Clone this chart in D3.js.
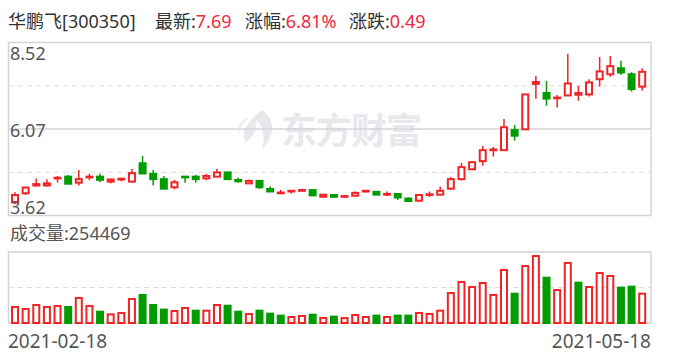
<html>
<head>
<meta charset="utf-8">
<script src='https://d3js.org/d3.v7.min.js'></script>
<style>
  body { margin: 0; background: #fff; }
  text { font-family: "Noto Sans", "Noto Sans CJK SC", sans-serif; }
</style>
</head>
<body>
<svg width=688 height=360></svg>
<script>

// daily prices, 2021-02-18 .. 2021-05-18
var open  = [3.99,4.25,4.47,4.47,4.67,4.72,4.55,4.70,4.72,4.58,4.64,4.58,5.10,4.80,4.65,4.42,4.72,4.72,4.67,4.72,
             4.84,4.63,4.53,4.60,4.37,4.25,4.30,4.32,4.34,4.15,4.20,4.15,4.18,4.30,4.29,4.21,4.23,4.10,4.04,4.20,
             4.21,4.38,4.65,4.93,5.16,5.47,5.47,6.04,6.06,7.35,7.09,6.94,7.02,7.04,7.05,7.48,7.62,7.79,7.62,7.27];
var high  = [4.28,4.44,4.67,4.65,4.74,4.77,4.91,4.80,4.80,4.66,4.69,4.94,5.31,4.91,4.74,4.63,4.74,4.77,4.80,4.94,
             4.85,4.69,4.63,4.60,4.44,4.34,4.32,4.38,4.34,4.23,4.20,4.17,4.30,4.34,4.29,4.30,4.23,4.13,4.20,4.30,
             4.44,4.71,5.11,5.16,5.59,5.56,6.35,6.18,7.05,7.57,7.43,7.03,8.20,7.29,7.48,8.11,8.14,8.00,7.68,7.79];
var low   = [3.94,4.20,4.44,4.44,4.55,4.52,4.47,4.62,4.57,4.53,4.59,4.55,4.82,4.47,4.38,4.36,4.55,4.55,4.62,4.70,
             4.64,4.55,4.51,4.38,4.30,4.23,4.24,4.30,4.19,4.15,4.13,4.13,4.15,4.27,4.21,4.17,4.06,4.01,4.01,4.15,
             4.19,4.34,4.61,4.93,5.03,5.29,5.47,5.74,6.06,6.93,6.73,6.68,7.02,6.87,6.99,7.27,7.55,7.61,7.13,7.16];
var close = [4.20,4.41,4.51,4.53,4.69,4.52,4.65,4.72,4.63,4.64,4.66,4.82,4.81,4.65,4.38,4.56,4.70,4.65,4.74,4.84,
             4.65,4.59,4.60,4.42,4.30,4.27,4.32,4.34,4.19,4.21,4.15,4.17,4.26,4.32,4.21,4.23,4.13,4.03,4.20,4.22,
             4.32,4.65,4.99,5.13,5.47,5.49,6.12,5.88,7.05,7.40,6.93,6.96,7.36,7.09,7.39,7.70,7.85,7.67,7.20,7.69];
// volume, lots
var volume = [139000,122000,156000,139000,148000,139000,217000,148000,98000,75000,87000,208000,243000,156000,116000,104000,130000,107000,107000,156000,
              150000,98000,78000,107000,81000,64000,52000,61000,72000,43000,55000,43000,69000,52000,64000,52000,64000,64000,87000,78000,
              107000,260000,356000,312000,347000,243000,460000,254000,494000,581000,393000,286000,521000,350000,312000,434000,408000,307000,315000,254469];

var priceTicks = [3.62, 6.07, 8.52];
var dateLabels = ["2021-02-18", "2021-05-18"];
var stockName = "华鹏飞[300350]";
var lastPrice = "7.69", changePct = "6.81%", changeAmt = "0.49";

var red = "#f02424", green = "#009c00";
var svg = d3.select('svg');

var x = d3.scaleBand().domain(d3.range(close.length)).range([9.7, 647.5]);
var y = d3.scaleLinear().domain([priceTicks[0], priceTicks[2]]).range([215.5, 42.5]);
var yv = d3.scaleLinear().domain([0, d3.max(volume) * 1.06]).range([323, 252]);
var bw = 6;

// header
var head = svg.append("text").attr("y", 28).attr("font-size", "18px").attr("fill", "#333");
head.append("tspan").attr("x", 8).text(stockName);
head.append("tspan").attr("x", 155).text("最新:");
head.append("tspan").attr("fill", "#f0283c").text(lastPrice);
head.append("tspan").attr("x", 245).text("涨幅:");
head.append("tspan").attr("fill", "#f0283c").text(changePct);
head.append("tspan").attr("x", 349).text("涨跌:");
head.append("tspan").attr("fill", "#f0283c").text(changeAmt);

// watermark
var wm = svg.append("g").attr("fill", "#e8e8ec");
wm.append("path").attr("d", "M262,110 C275,118 276,134 262,150 C266,136 262,124 256,120 C258,128 254,136 246,142 C240,134 246,122 262,110 Z");
wm.append("path").attr("d", "M250,118 C242,122 238,130 240,136 C236,128 240,120 250,118 Z");
wm.append("text").attr("x", 281).attr("y", 144).attr("font-size", "36px").attr("font-weight", "bold")
    .attr("font-family", "Noto Sans CJK SC").attr("letter-spacing", "-1px").text("东方财富");

// price panel frame and grid
svg.append("rect").attr("x", 8.5).attr("y", 42.5).attr("width", 642.5).attr("height", 173)
    .attr("fill", "none").attr("stroke", "#d4d4d8").attr("stroke-width", 1.5);
svg.append("line").attr("x1", 8).attr("x2", 651).attr("y1", y(priceTicks[1])).attr("y2", y(priceTicks[1]))
    .attr("stroke", "#d4d4d8").attr("stroke-width", 1.5);
[(priceTicks[0] + priceTicks[1]) / 2, (priceTicks[1] + priceTicks[2]) / 2].forEach(function(v) {
    svg.append("line").attr("x1", 9).attr("x2", 650).attr("y1", y(v)).attr("y2", y(v))
        .attr("stroke", "#dcdcdc").attr("stroke-dasharray", "5,4");
});

// candles
var candles = svg.append("g").selectAll("g").data(d3.range(close.length)).join("g");
function cColor(i) {
    if (close[i] > open[i]) return red;
    if (close[i] < open[i]) return green;
    return (i > 0 && close[i] < close[i-1]) ? green : red;
}
candles.append("line")
    .attr("x1", i => x(i) + x.bandwidth() / 2).attr("x2", i => x(i) + x.bandwidth() / 2)
    .attr("y1", i => y(high[i])).attr("y2", i => y(low[i]))
    .attr("stroke", cColor).attr("stroke-width", 1.5);
candles.append("rect")
    .attr("x", i => x(i) + x.bandwidth() / 2 - bw / 2)
    .attr("y", i => y(Math.max(open[i], close[i])))
    .attr("width", bw)
    .attr("height", i => Math.max(0.5, Math.abs(y(open[i]) - y(close[i]))))
    .attr("fill", i => cColor(i) == red ? "#fff" : green)
    .attr("stroke", cColor).attr("stroke-width", 2);

// price labels
svg.append("g").attr("font-size", "18px").attr("fill", "#555")
    .selectAll("text").data(priceTicks).join("text")
    .attr("x", 10)
    .attr("y", (d, i) => [214, 137, 60][i])
    .text(d => d.toFixed(2));

// volume
svg.append("text").attr("x", 10).attr("y", 240).attr("font-size", "18px").attr("fill", "#555")
    .text("成交量:" + volume[volume.length - 1]);
svg.append("rect").attr("x", 8.5).attr("y", 252).attr("width", 642.5).attr("height", 71)
    .attr("fill", "none").attr("stroke", "#d4d4d8").attr("stroke-width", 1.5);
svg.append("line").attr("x1", 9).attr("x2", 650).attr("y1", 287.5).attr("y2", 287.5)
    .attr("stroke", "#dcdcdc").attr("stroke-dasharray", "5,4");

function vColor(i) { return (i > 0 && close[i] < close[i-1]) ? green : red; }
svg.append("g").selectAll("rect").data(volume).join("rect")
    .attr("x", (d, i) => x(i) + x.bandwidth() / 2 - bw / 2)
    .attr("y", d => yv(d))
    .attr("width", bw)
    .attr("height", d => yv(0) - yv(d))
    .attr("fill", (d, i) => vColor(i) == red ? "#fff" : green)
    .attr("stroke", (d, i) => vColor(i)).attr("stroke-width", 2);

// dates
svg.append("text").attr("x", 8).attr("y", 348).attr("font-size", "19px").attr("fill", "#555").text(dateLabels[0]);
svg.append("text").attr("x", 651).attr("y", 348).attr("font-size", "19px").attr("fill", "#555")
    .attr("text-anchor", "end").text(dateLabels[1]);
</script>
</body>
</html>
